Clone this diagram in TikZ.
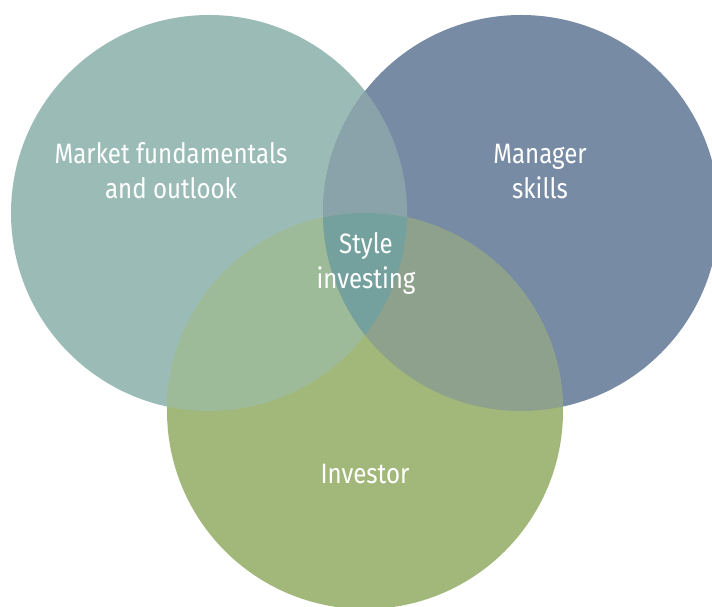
\documentclass[tikz,border=0pt]{standalone}
\usepackage{fontspec}
\setmainfont{Fira Sans}[FakeStretch=0.86]

% fills of the single circles
\definecolor{marketfill}{HTML}{9BBCB6}
\definecolor{managerfill}{HTML}{788BA5}
\definecolor{investorfill}{HTML}{A2B87A}
% fills of the overlaps
\definecolor{marketmanager}{HTML}{8AA3AB}
\definecolor{marketinvestor}{HTML}{9EBB99}
\definecolor{managerinvestor}{HTML}{8EA18C}
\definecolor{stylefill}{HTML}{74A19D}

\newcommand{\circrad}{198}

\tikzset{
    venn label/.style={text=white, align=center, inner sep=0pt,
        font=\fontsize{28}{35}\selectfont}
}

\begin{document}
\begin{tikzpicture}[x=1pt,y=1pt]
\useasboundingbox (0,0) rectangle (712,607);

% Circle centres
\coordinate (market) at (209,394);
\coordinate (manager) at (521,394);
\coordinate (investor) at (365,196);

% Draw circles
\fill[marketfill] (market) circle (\circrad);
\fill[managerfill] (manager) circle (\circrad);
\fill[investorfill] (investor) circle (\circrad);

% Pairwise overlaps
\begin{scope}
    \clip (market) circle (\circrad);
    \fill[marketmanager] (manager) circle (\circrad);
    \fill[marketinvestor] (investor) circle (\circrad);
\end{scope}
\begin{scope}
    \clip (manager) circle (\circrad);
    \fill[managerinvestor] (investor) circle (\circrad);
\end{scope}

% Middle region
\begin{scope}
    \clip (market) circle (\circrad);
    \clip (manager) circle (\circrad);
    \fill[stylefill] (investor) circle (\circrad);
\end{scope}

% Labels
\node[venn label] (marketlbl) at (171,436) {Market fundamentals\\and outlook};
\node[venn label] (managerlbl) at (540,435) {Manager\\skills};
\node[venn label] (stylelbl) at (366,344) {Style\\investing};
\node[venn label] (investorlbl) at (365,133) {Investor};
\end{tikzpicture}
\end{document}
